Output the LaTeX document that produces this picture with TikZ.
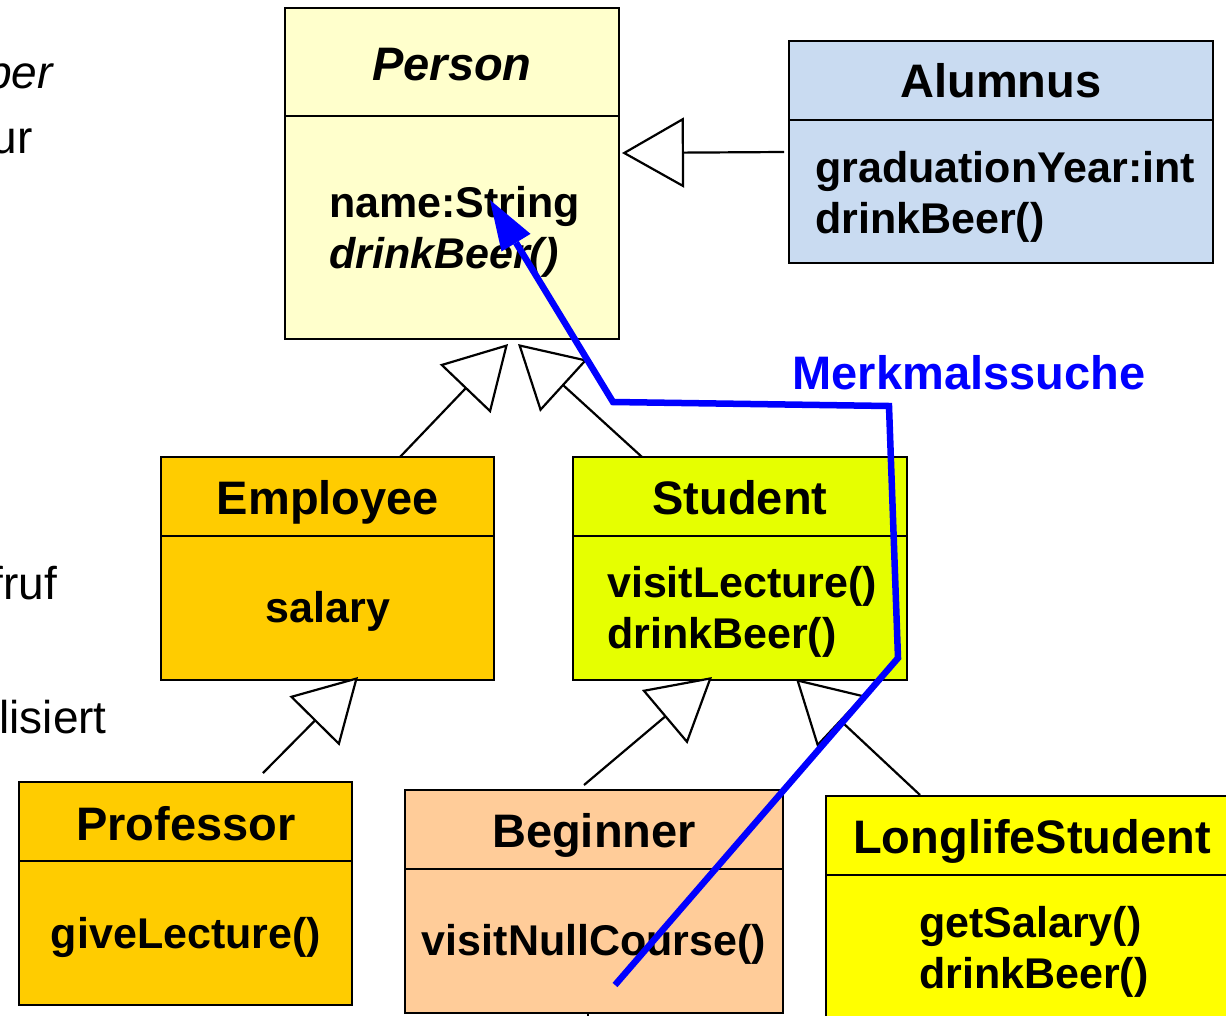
\documentclass[tikz,border=0pt]{standalone}
\usepackage{fontspec}
\setmainfont{Liberation Sans}
\usetikzlibrary{arrows.meta}
\definecolor{personfill}{HTML}{FFFFCC}
\definecolor{alumfill}{HTML}{C9DBF1}
\definecolor{staff}{HTML}{FFCC00}
\definecolor{studfill}{HTML}{E6FF00}
\definecolor{beginfill}{HTML}{FFCC99}
\definecolor{longfill}{HTML}{FFFF00}
\definecolor{searchblue}{HTML}{0000FF}
\begin{document}
\begin{tikzpicture}[x=1pt,y=-1pt,
  box/.style={draw=black, line width=2pt, inner sep=0pt, outer sep=0pt, anchor=north west},
  title/.style={font=\fontsize{47}{50}\selectfont\bfseries, anchor=base, inner sep=0pt},
  member/.style={font=\fontsize{43}{51}\selectfont\bfseries, align=left, anchor=base west, inner sep=0pt},
  membercenter/.style={font=\fontsize{43}{51}\selectfont\bfseries, anchor=base, inner sep=0pt},
  side/.style={font=\fontsize{46}{50}\selectfont, anchor=base east, inner sep=0pt},
  gen/.style={line width=2.2pt, -{Triangle[length=62pt,width=70pt,fill=white,line width=2.2pt]}},
  search/.style={draw=searchblue, line width=6.5pt, miter limit=10,
    -{Triangle[length=50pt,width=34pt,line width=0pt]}}]
\useasboundingbox (0,0) rectangle (1226,1015);
\clip (0,0) rectangle (1226,1015);

% margin text running in from the left
\node[side] (t1) at (53,88) {\itshape aber};
\node[side] (t2) at (33,153) {nur};
\node[side] (t3) at (57,599) {Aufruf};
\node[side] (t4) at (107,733) {realisiert};

% class Person (multi-line members are placed by their last baseline)
\node[box, fill=personfill, minimum width=334, minimum height=108] (personH) at (285,8) {};
\node[box, fill=personfill, minimum width=334, minimum height=223] (personB) at (285,116) {};
\node[title] (personT) at (452,80) {\itshape Person};
\node[member] (personM) at (329,268) {name:String\\\itshape drinkBeer()};

% class Alumnus
\node[box, fill=alumfill, minimum width=424, minimum height=79] (alumH) at (789,41) {};
\node[box, fill=alumfill, minimum width=424, minimum height=143] (alumB) at (789,120) {};
\node[title] (alumT) at (1001,97) {Alumnus};
\node[member] (alumM) at (815,233) {graduationYear:int\\drinkBeer()};

% class Employee
\node[box, fill=staff, minimum width=333, minimum height=79] (empH) at (161,457) {};
\node[box, fill=staff, minimum width=333, minimum height=144] (empB) at (161,536) {};
\node[title] (empT) at (328,514) {Employee};
\node[membercenter] (empM) at (328,622) {salary};

% class Student
\node[box, fill=studfill, minimum width=334, minimum height=79] (studH) at (573,457) {};
\node[box, fill=studfill, minimum width=334, minimum height=144] (studB) at (573,536) {};
\node[title] (studT) at (740,514) {Student};
\node[member] (studM) at (607,648) {visitLecture()\\drinkBeer()};

% class Professor
\node[box, fill=staff, minimum width=333, minimum height=79] (profH) at (19,782) {};
\node[box, fill=staff, minimum width=333, minimum height=144] (profB) at (19,861) {};
\node[title] (profT) at (186,840) {Professor};
\node[membercenter] (profM) at (186,948) {giveLecture()};

% class Beginner
\node[box, fill=beginfill, minimum width=378, minimum height=79] (begH) at (405,790) {};
\node[box, fill=beginfill, minimum width=378, minimum height=144] (begB) at (405,869) {};
\node[title] (begT) at (594,847) {Beginner};
\node[membercenter] (begM) at (594,955) {visitNullCourse()};
\draw[line width=2pt] ([xshift=183pt]begB.south west) -- ++(0,12);

% class LonglifeStudent
\node[box, fill=longfill, minimum width=420, minimum height=79] (longH) at (826,796) {};
\node[box, fill=longfill, minimum width=420, minimum height=160] (longB) at (826,875) {};
\node[title] (longT) at (1032,853) {LonglifeStudent};
\node[member] (longM) at (919,988) {getSalary()\\drinkBeer()};

% generalisations
\draw[gen] ([shift={(-5,32)}]alumB.north west) -- ([shift={(3,37)}]personB.north east);
\draw[gen] ([xshift=239pt]empH.north west) -- ([shift={(223,5)}]personB.south west);
\draw[gen] ([xshift=69pt]studH.north west) -- ([shift={(233,5)}]personB.south west);
\draw[gen] ([shift={(244,-9)}]profH.north west) -- ([shift={(197,-3)}]empB.south west);
\draw[gen] ([shift={(179,-5)}]begH.north west) -- ([shift={(139,-3)}]studB.south west);
\draw[gen] ([shift={(94,-1)}]longH.north west) -- ([shift={(223,-1)}]studB.south west);

% lookup path
\node[font=\fontsize{47}{50}\selectfont\bfseries, text=searchblue, anchor=base, inner sep=0pt] (lookup) at (969,389) {Merkmalssuche};
\coordinate (s0) at (615,985);
\coordinate (s1) at (898,658);
\coordinate (s2) at (889,406);
\coordinate (s3) at (613,402);
\coordinate (s4) at (490,200);
\draw[search] (s0) -- (s1) -- (s2) -- (s3) -- (s4);
\end{tikzpicture}
\end{document}
